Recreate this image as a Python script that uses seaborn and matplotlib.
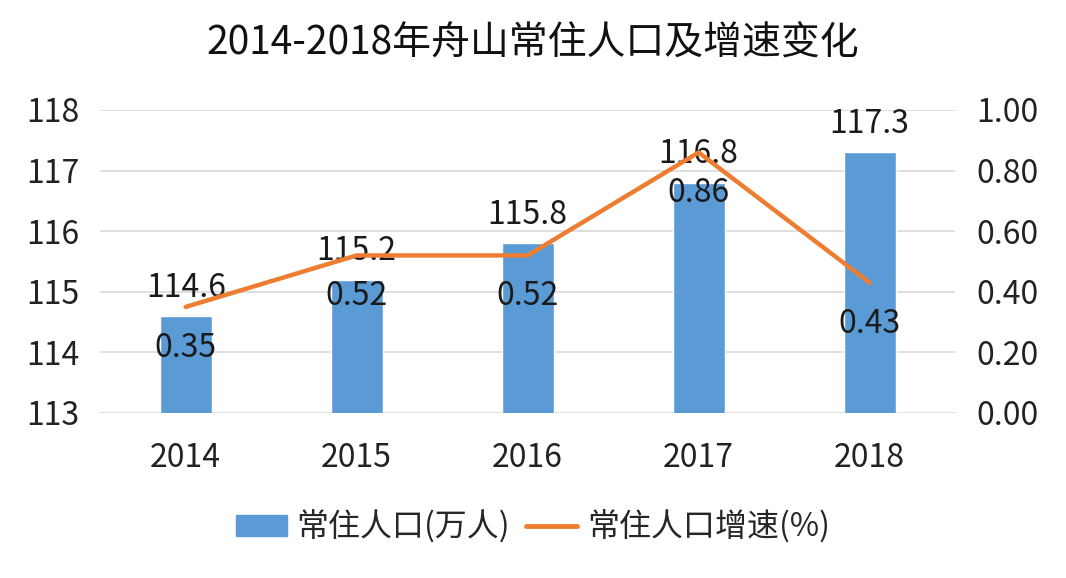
import matplotlib
matplotlib.use("Agg")
import matplotlib.pyplot as plt
import seaborn as sns
import numpy as np
import pandas as pd
from matplotlib.patches import Patch
from matplotlib.lines import Line2D

years = ["2014", "2015", "2016", "2017", "2018"]
population = [114.6, 115.2, 115.8, 116.8, 117.3]
growth = [0.35, 0.52, 0.52, 0.86, 0.43]
title = "2014-2018年舟山常住人口及增速变化"
bar_label = "常住人口(万人)"
line_label = "常住人口增速(%)"
left_ticks = [113, 114, 115, 116, 117, 118]
right_ticks = [0.0, 0.2, 0.4, 0.6, 0.8, 1.0]

sns.set_style("white")
plt.rcParams['font.family'] = ['Noto Sans CJK SC', 'DejaVu Sans']

BLUE = "#5B9BD5"
ORANGE = "#ED7D31"
GRID = "#D9D9D9"
FS = 23

df = pd.DataFrame({"year": years, "pop": population, "growth": growth})

fig = plt.figure(figsize=(10.66, 5.78), dpi=100)
ax = fig.add_axes([0.094, 0.2855, 0.802, 0.5242])

sns.barplot(data=df, x="year", y="pop", color=BLUE, width=0.305, ax=ax,
            saturation=1, zorder=2)
ax.set_ylim(113, 118)
ax.set_yticks(left_ticks)
ax.set_yticklabels([f"{v:d}" for v in left_ticks])
ax.set_xlim(-0.5, len(years) - 0.5)
ax.yaxis.grid(True, color=GRID, linewidth=1.2, zorder=0)
ax.set_axisbelow(True)
for s in ax.spines.values():
    s.set_visible(False)
ax.tick_params(axis="y", length=0, labelsize=FS, pad=15, labelcolor="#222222")
ax.tick_params(axis="x", length=0, labelsize=FS, pad=21, labelcolor="#222222")
ax.set_xlabel("")
ax.set_ylabel("")

ax2 = ax.twinx()
xpos = np.arange(len(years))
sns.lineplot(x=xpos, y=growth, color=ORANGE, linewidth=3.2, ax=ax2, zorder=3)
ax2.set_ylim(0, 1.0)
ax2.set_yticks(right_ticks)
ax2.set_yticklabels([f"{v:.2f}" for v in right_ticks])
ax2.tick_params(axis="y", length=0, labelsize=FS, pad=15, labelcolor="#222222")
for s in ax2.spines.values():
    s.set_visible(False)
ax2.set_ylabel("")

for i, v in enumerate(population):
    ax.annotate(f"{v:.1f}", (i, v), xytext=(0, 9), textcoords="offset points",
                ha="center", va="bottom", fontsize=FS, color="#1a1a1a", zorder=5)

for i, v in enumerate(growth):
    ax2.annotate(f"{v:.2f}", (i, v), xytext=(0, -18), textcoords="offset points",
                 ha="center", va="top", fontsize=FS, color="#1a1a1a", zorder=5)

fig.text(0.5, 0.925, title, ha="center", va="center", fontsize=28, color="#111111")

handles = [Patch(facecolor=BLUE, edgecolor=BLUE),
           Line2D([0], [0], color=ORANGE, linewidth=3.5)]
fig.legend(handles, [bar_label, line_label], loc="center", bbox_to_anchor=(0.5, 0.088),
           ncol=2, frameon=False, fontsize=FS, handlelength=1.6, handleheight=0.6,
           columnspacing=0.5, handletextpad=0.3)

fig.savefig("out.png", dpi=100, facecolor="white")
